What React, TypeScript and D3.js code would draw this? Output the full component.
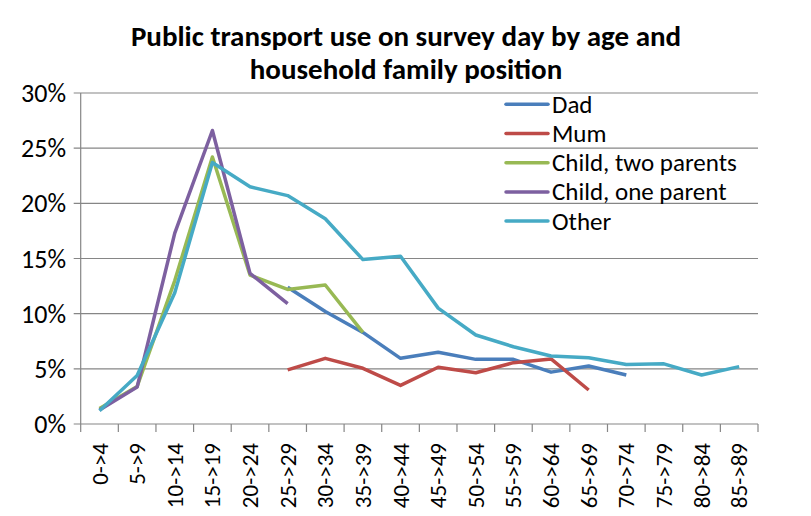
import React from "react";
import * as d3 from "d3";

const categories = ["0->4","5->9","10->14","15->19","20->24","25->29","30->34","35->39","40->44","45->49","50->54","55->59","60->64","65->69","70->74","75->79","80->84","85->89"];
const dad = [null,null,null,null,null,12.4,10.2,8.3,5.95,6.5,5.86,5.86,4.7,5.26,4.44,null,null,null];
const mum = [null,null,null,null,null,4.9,5.95,5.05,3.5,5.14,4.65,5.56,5.9,3.08,null,null,null,null];
const childTwo = [1.4,3.4,13.0,24.2,13.5,12.2,12.6,8.3,null,null,null,null,null,null,null,null,null,null];
const childOne = [1.27,3.35,17.3,26.6,13.65,10.9,null,null,null,null,null,null,null,null,null,null,null,null];
const other = [1.2,4.4,11.9,23.7,21.5,20.7,18.6,14.9,15.2,10.5,8.07,7.0,6.16,6.0,5.4,5.45,4.44,5.2];
const yTicks = [0,5,10,15,20,25,30];

const series = [
  { name: "Dad", values: dad, color: "#4A7EBB" },
  { name: "Mum", values: mum, color: "#BE4B48" },
  { name: "Child, two parents", values: childTwo, color: "#98B954" },
  { name: "Child, one parent", values: childOne, color: "#7D60A0" },
  { name: "Other", values: other, color: "#46AAC5" },
];

export default function App() {
  const W = 811, H = 516;
  const left = 80.7, right = 758, top = 93, bottom = 424;
  const x = d3.scaleBand<string>().domain(categories).range([left, right]);
  const y = d3.scaleLinear().domain([0, 30]).range([bottom, top]);
  const line = d3.line<number | null>()
    .defined((d) => d != null)
    .x((_, i) => (x(categories[i]) as number) + x.bandwidth() / 2)
    .y((d) => y(d as number));
  const font = "Calibri, Carlito, Lato, sans-serif";
  return (
    <svg width={W} height={H} style={{ position: "absolute", left: 0, top: 0, background: "#fff" }} fontFamily={font}>
      <text x={406} y={46} textAnchor="middle" fontSize={29} fontWeight="bold">Public transport use on survey day by age and</text>
      <text x={406} y={79} textAnchor="middle" fontSize={29} fontWeight="bold">household family position</text>
      {yTicks.map((t) => (
        <g key={t}>
          <line x1={left - 7} x2={right} y1={y(t)} y2={y(t)} stroke="#868686" strokeWidth={1.2} />
          <text x={66} y={y(t) + 9} textAnchor="end" fontSize={26}>{t}%</text>
        </g>
      ))}
      <line x1={left} x2={left} y1={top} y2={bottom} stroke="#868686" strokeWidth={1.2} />
      {categories.concat([""]).map((c, i) => {
        const xx = left + i * x.step();
        return <line key={i} x1={xx} x2={xx} y1={bottom} y2={bottom + 8} stroke="#868686" strokeWidth={1.2} />;
      })}
      {categories.map((c) => {
        const cx = (x(c) as number) + x.bandwidth() / 2;
        return (
          <text key={c} transform={`translate(${cx + 8},${443}) rotate(-90)`} textAnchor="end" fontSize={23}>{c}</text>
        );
      })}
      {series.map((s) => (
        <path key={s.name} d={line(s.values) || ""} fill="none" stroke={s.color} strokeWidth={3.5} strokeLinejoin="round" />
      ))}
      {series.map((s, i) => (
        <g key={s.name}>
          <line x1={506} x2={548} y1={104.3 + i * 29.2} y2={104.3 + i * 29.2} stroke={s.color} strokeWidth={3.5} strokeLinecap="round" />
          <text x={552} y={104.3 + i * 29.2 + 8.5} fontSize={25}>{s.name}</text>
        </g>
      ))}
    </svg>
  );
}
